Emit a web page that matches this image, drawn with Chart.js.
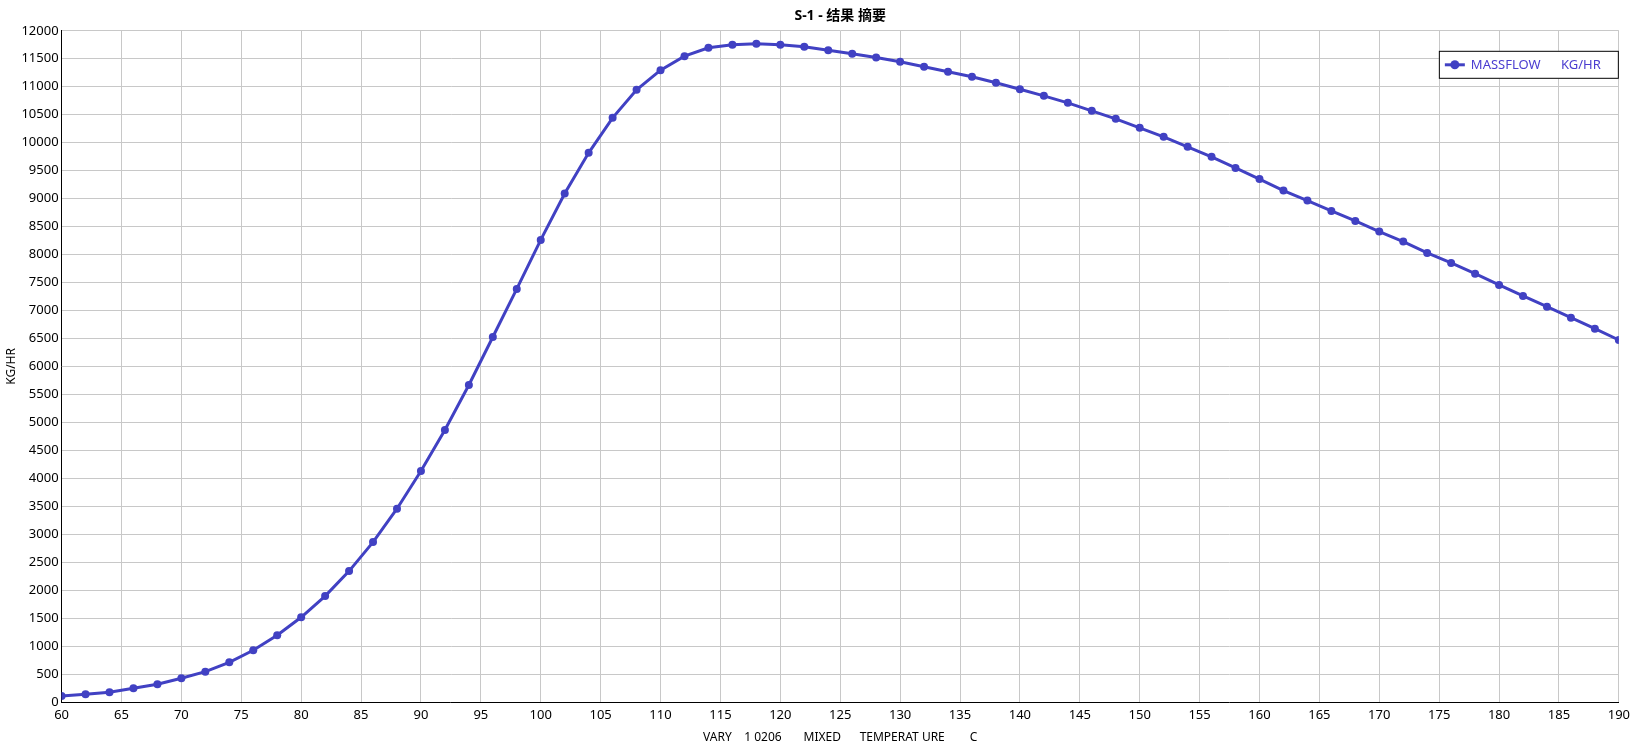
<!DOCTYPE html>
<html>
<head>
<meta charset="utf-8">
<script src="https://cdn.jsdelivr.net/npm/chart.js@4"></script>
<style>
  body { margin: 0; background: #fff; }
  #wrap { width: 1635px; height: 750px; }
</style>
</head>
<body>
<div id="wrap"><canvas id="massflowChart" width="1635" height="750"></canvas></div>
<script>
// Temperatura (C) y flujo masico (KG/HR)
const temperatures = [60, 62, 64, 66, 68, 70, 72, 74, 76, 78,
    80, 82, 84, 86, 88, 90, 92, 94, 96, 98,
    100, 102, 104, 106, 108, 110, 112, 114, 116, 118,
    120, 122, 124, 126, 128, 130, 132, 134, 136, 138,
    140, 142, 144, 146, 148, 150, 152, 154, 156, 158,
    160, 162, 164, 166, 168, 170, 172, 174, 176, 178,
    180, 182, 184, 186, 188, 190];
const massflow = [107, 137, 173, 245, 316, 424, 542, 710, 925, 1195,
    1515, 1893, 2340, 2859, 3455, 4129, 4863, 5668, 6526, 7385,
    8261, 9090, 9818, 10444, 10945, 11296, 11547, 11696, 11750, 11767,
    11750, 11714, 11654, 11589, 11523, 11445, 11356, 11267, 11177, 11070,
    10956, 10837, 10712, 10569, 10426, 10265, 10104, 9925, 9746, 9549,
    9350, 9143, 8964, 8779, 8600, 8410, 8231, 8028, 7849, 7658,
    7456, 7259, 7068, 6871, 6674, 6472];
const seriesLabel = 'MASSFLOW      KG/HR';
const chartTitle = 'S-1 - 结果 摘要';
const xTitle = 'VARY    1 0206       MIXED      TEMPERAT URE        C';
const yTitle = 'KG/HR';

const lineColor = '#4141c3';

Chart.defaults.font.family = "'Noto Sans', 'Noto Sans CJK SC', sans-serif";
Chart.defaults.font.size = 12;
Chart.defaults.color = '#000';

// leyenda con borde dentro del area del grafico
const boxLegend = {
    id: 'boxLegend',
    afterDraw(chart) {
        const ctx = chart.ctx;
        const area = chart.chartArea;
        const w = 180, h = 28;
        const x = area.right - w, y = area.top + 20;
        ctx.save();
        ctx.fillStyle = '#fff';
        ctx.fillRect(x, y, w, h);
        ctx.strokeStyle = '#000';
        ctx.lineWidth = 1;
        ctx.strokeRect(x + 0.5, y + 0.5, w - 1, h - 1);
        const cy = y + h / 2;
        ctx.strokeStyle = lineColor;
        ctx.lineWidth = 3;
        ctx.beginPath();
        ctx.moveTo(x + 6, cy);
        ctx.lineTo(x + 26, cy);
        ctx.stroke();
        ctx.fillStyle = lineColor;
        ctx.beginPath();
        ctx.arc(x + 16, cy, 4.5, 0, Math.PI * 2);
        ctx.fill();
        ctx.font = "13px 'Noto Sans', sans-serif";
        ctx.textBaseline = 'middle';
        ctx.fillStyle = '#4a3cd0';
        ctx.fillText(chart.data.datasets[0].label, x + 32, cy);
        ctx.restore();
    }
};

new Chart(document.getElementById('massflowChart'), {
    type: 'line',
    data: {
        datasets: [{
            label: seriesLabel,
            data: temperatures.map((t, i) => ({ x: t, y: massflow[i] })),
            borderColor: lineColor,
            backgroundColor: lineColor,
            borderWidth: 3,
            pointRadius: 4,
            pointBackgroundColor: lineColor,
            pointBorderWidth: 0,
            tension: 0
        }]
    },
    options: {
        responsive: false,
        animation: false,
        events: [],
        layout: { padding: { right: 7 } },
        plugins: {
            legend: { display: false },
            tooltip: { enabled: false },
            title: {
                display: true,
                text: chartTitle,
                fullSize: false,
                color: '#000',
                font: { size: 14, weight: 'bold' },
                padding: { top: 8, bottom: 6 }
            }
        },
        scales: {
            x: {
                type: 'linear',
                min: 60,
                max: 190,
                ticks: { stepSize: 5, padding: 5, color: '#000', font: { size: 13 }, callback: v => String(v) },
                grid: { color: '#c8c8c8', drawTicks: false },
                border: { color: '#000', width: 1 },
                title: { display: true, text: xTitle, padding: { top: 3, bottom: 5 } }
            },
            y: {
                min: 0,
                max: 12000,
                ticks: { stepSize: 500, padding: 3, color: '#000', font: { size: 13 }, callback: v => String(v) },
                grid: { color: '#c8c8c8', drawTicks: false },
                border: { color: '#000', width: 1 },
                title: { display: true, text: yTitle, padding: { top: 4, bottom: 0 } }
            }
        }
    },
    plugins: [boxLegend]
});
</script>
</body>
</html>
